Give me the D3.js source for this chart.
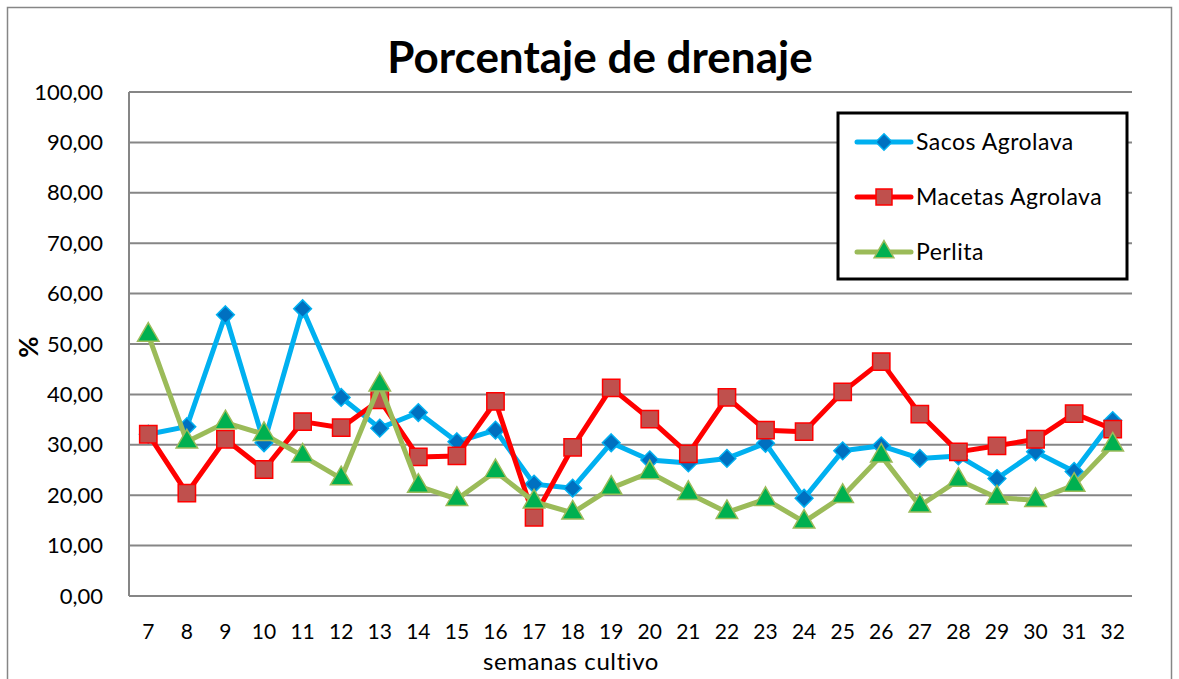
<!DOCTYPE html>
<html>
<head>
<meta charset="utf-8">
<script src="https://cdn.jsdelivr.net/npm/d3@7/dist/d3.min.js"></script>
<style>
  body { margin: 0; background: #fff; }
  text { font-family: Lato, "Open Sans", sans-serif; fill: #000; }
</style>
</head>
<body>
<svg id="chart" width="1179" height="679"></svg>
<script>
"use strict";

// semanas de cultivo
var semanas = [7, 8, 9, 10, 11, 12, 13, 14, 15, 16, 17, 18, 19, 20, 21, 22, 23, 24, 25, 26, 27, 28, 29, 30, 31, 32]

var sacos = [32.1, 33.6, 55.8, 30.4, 57.0, 39.4, 33.3, 36.4, 30.6, 32.9, 22.2, 21.4, 30.4, 27.0, 26.4, 27.3, 30.3, 19.4, 28.8, 29.8, 27.3, 27.8, 23.3, 28.6, 24.7, 34.8]
var macetas = [32.1, 20.4, 31.1, 25.1, 34.6, 33.4, 38.9, 27.6, 27.8, 38.6, 15.6, 29.5, 41.3, 35.1, 28.2, 39.4, 32.9, 32.6, 40.5, 46.5, 36.1, 28.6, 29.8, 31.1, 36.2, 33.1]
var perlita = [51.8, 30.6, 34.4, 32.1, 27.8, 23.3, 41.9, 21.8, 19.2, 24.7, 18.7, 16.5, 21.4, 24.5, 20.4, 16.6, 19.2, 14.7, 19.8, 27.8, 17.9, 23.0, 19.5, 19.0, 22.0, 30.0]

var yTicks = [0, 10, 20, 30, 40, 50, 60, 70, 80, 90, 100]

var series = [
  { name: "Sacos Agrolava", values: sacos, line: "#00B0F0", fill: "#0070C0", stroke: "#00B0F0", symbol: d3.symbolDiamond2, size: 200 },
  { name: "Macetas Agrolava", values: macetas, line: "#FF0000", fill: "#C0504D", stroke: "#FF0000", symbol: d3.symbolSquare, size: 300 },
  { name: "Perlita", values: perlita, line: "#9BBB59", fill: "#00B050", stroke: "#9BBB59", symbol: d3.symbolTriangle, size: 200 }
]

var svg = d3.select("#chart")
var plotLeft = 129, plotRight = 1132, plotTop = 92, plotBottom = 596

// marco exterior
svg.append("rect")
  .attr("x", 7.5).attr("y", 7.5)
  .attr("width", 1164).attr("height", 690)
  .attr("fill", "none")
  .attr("stroke", "#868686")
  .attr("stroke-width", 1.5)

var x = d3.scaleBand().domain(semanas).range([plotLeft, plotRight])
var y = d3.scaleLinear().domain([0, 100]).range([plotBottom, plotTop])

// lineas de la rejilla
svg.append("g")
  .selectAll("line")
  .data(yTicks)
  .enter()
  .append("line")
    .attr("x1", plotLeft).attr("x2", plotRight)
    .attr("y1", d => y(d)).attr("y2", d => y(d))
    .attr("stroke", "#868686")
    .attr("stroke-width", 2)

svg.append("line")
  .attr("x1", plotLeft).attr("x2", plotLeft)
  .attr("y1", plotTop).attr("y2", plotBottom)
  .attr("stroke", "#868686")
  .attr("stroke-width", 2)

// eje y
var yAxis = svg.append("g")
  .attr("transform", "translate(" + plotLeft + ",0)")
  .call(d3.axisLeft(y).tickValues(yTicks).tickSize(0).tickPadding(26)
    .tickFormat(d => d3.format(".2f")(d).replace(".", ",")))
yAxis.select(".domain").remove()
yAxis.selectAll("text").style("font-size", "22px").style("font-family", "Lato, sans-serif").attr("fill", "#000")

// eje x
var xAxis = svg.append("g")
  .attr("transform", "translate(0," + plotBottom + ")")
  .call(d3.axisBottom(x).tickSize(0).tickPadding(28))
xAxis.select(".domain").remove()
xAxis.selectAll("text").style("font-size", "21px").style("font-family", "Lato, sans-serif").attr("fill", "#000")

// titulos
svg.append("text")
  .attr("x", 600).attr("y", 73)
  .attr("text-anchor", "middle")
  .style("font-size", "44px")
  .style("font-weight", "bold")
  .text("Porcentaje de drenaje")

svg.append("text")
  .attr("x", 571).attr("y", 670)
  .attr("text-anchor", "middle")
  .style("font-size", "24px")
  .style("letter-spacing", "0.6px")
  .text("semanas cultivo")

svg.append("text")
  .attr("transform", "translate(38,347) rotate(-90)")
  .attr("text-anchor", "middle")
  .style("font-size", "26px")
  .style("font-weight", "bold")
  .text("%")

// series
var line = d3.line()
  .x((d, i) => x(semanas[i]) + x.bandwidth() / 2)
  .y(d => y(d))

series.forEach(s => {
  svg.append("path")
    .datum(s.values)
    .attr("d", line)
    .attr("fill", "none")
    .attr("stroke", s.line)
    .attr("stroke-width", 5)
    .attr("stroke-linejoin", "round")

  svg.append("g")
    .selectAll("path")
    .data(s.values)
    .enter()
    .append("path")
      .attr("d", d3.symbol().type(s.symbol).size(s.size))
      .attr("transform", (d, i) => "translate(" + (x(semanas[i]) + x.bandwidth() / 2) + "," + y(d) + ")")
      .attr("fill", s.fill)
      .attr("stroke", s.stroke)
      .attr("stroke-width", 1.5)
})

// leyenda
var legend = svg.append("g")
legend.append("rect")
  .attr("x", 838).attr("y", 113)
  .attr("width", 289).attr("height", 166)
  .attr("fill", "#fff")
  .attr("stroke", "#000")
  .attr("stroke-width", 3)

var item = legend.selectAll(".item")
  .data(series)
  .enter()
  .append("g")
    .attr("class", "item")
    .attr("transform", (d, i) => "translate(0," + (142 + i * 55) + ")")

item.append("line")
  .attr("x1", 857).attr("x2", 911)
  .attr("stroke", d => d.line)
  .attr("stroke-width", 5)
  .attr("stroke-linecap", "round")

item.append("path")
  .attr("transform", "translate(884,0)")
  .attr("d", d => d3.symbol().type(d.symbol).size(d.size * 0.85)())
  .attr("fill", d => d.fill)
  .attr("stroke", d => d.stroke)
  .attr("stroke-width", 1.5)

item.append("text")
  .attr("x", 916).attr("y", 8)
  .style("font-size", "23px")
  .style("letter-spacing", "0.5px")
  .text(d => d.name)
</script>
</body>
</html>
